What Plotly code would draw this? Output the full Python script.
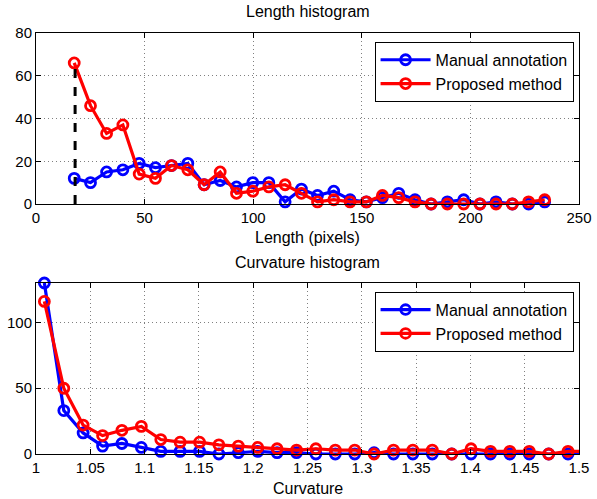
import plotly.graph_objects as go

# ---------------- Data ----------------
length_bins = [17.6, 25.1, 32.5, 40.0, 47.5, 55.0, 62.4, 69.9, 77.4, 84.8,
               92.3, 99.8, 107.2, 114.7, 122.2, 129.6, 137.1, 144.6, 152.1, 159.5,
               167.0, 174.5, 181.9, 189.4, 196.9, 204.4, 211.8, 219.3, 226.8, 234.2]
length_manual = [12, 10, 15, 16, 19, 17, 18, 19, 9, 11,
                 8, 10, 10, 1, 7, 4, 6, 2, 1, 3,
                 5, 2, 0, 1, 2, 0, 1, 0, 0, 1]
length_proposed = [66, 46, 33, 37, 14, 12, 18, 16, 9, 15,
                   5, 6, 8, 9, 5, 1, 2, 1, 1, 4,
                   3, 1, 0, 0, 0, 0, 0, 0, 1, 2]
length_threshold = 18
length_threshold_top = 66

curv_bins = [1.0077, 1.0256, 1.0434, 1.0613, 1.0791, 1.0970, 1.1149, 1.1327, 1.1506, 1.1684,
             1.1863, 1.2042, 1.2220, 1.2399, 1.2577, 1.2756, 1.2935, 1.3113, 1.3292, 1.3470,
             1.3649, 1.3828, 1.4006, 1.4185, 1.4363, 1.4542, 1.4721, 1.4899, 1.5078]
curv_manual = [130, 33, 16, 6, 8, 5, 2, 2, 2, 0,
               1, 2, 1, 1, 0, 0, 0, 1, 0, 0,
               0, 0, 0, 0, 0, 0, 0, 0, 0]
curv_proposed = [116, 50, 22, 14, 18, 21, 11, 9, 9, 7,
                 6, 5, 4, 3, 4, 3, 3, 0, 3, 3,
                 3, 0, 4, 2, 2, 2, 0, 2, 2]

len_xticks = [0, 50, 100, 150, 200, 250]
len_yticks = [0, 20, 40, 60, 80]
curv_xticks = [1, 1.05, 1.1, 1.15, 1.2, 1.25, 1.3, 1.35, 1.4, 1.45, 1.5]
curv_xticktext = ["1", "1.05", "1.1", "1.15", "1.2", "1.25", "1.3", "1.35", "1.4", "1.45", "1.5"]
curv_yticks = [0, 50, 100]

series_names = ["Manual annotation", "Proposed method"]
BLUE = "#0000ff"
RED = "#ff0000"
FONT = "Liberation Sans, Arial, Helvetica, sans-serif"
TICK_SIZE = 15
TEXT_SIZE = 16

fig = go.Figure()

def add_series(x, y, name, color, xa, ya, legend, sizes=None):
    fig.add_trace(go.Scatter(
        x=x, y=y, name=name, mode="lines+markers",
        line=dict(color=color, width=3.2),
        marker=dict(symbol="circle-open", size=sizes if sizes else 10, opacity=1,
                    color=color, line=dict(width=2.8, color=color)),
        xaxis=xa, yaxis=ya, legend=legend, cliponaxis=False,
    ))

# top subplot
add_series(length_bins, length_manual, series_names[0], BLUE, "x", "y", "legend")
add_series(length_bins, length_proposed, series_names[1], RED, "x", "y", "legend")
fig.add_trace(go.Scatter(
    x=[length_threshold, length_threshold], y=[0, length_threshold_top],
    mode="lines", line=dict(color="black", width=3, dash="dash"),
    showlegend=False, xaxis="x", yaxis="y", hoverinfo="skip"))

# bottom subplot (last point lies past the axis edge: no marker drawn)
sizes = [10] * (len(curv_bins) - 1) + [0]
add_series(curv_bins, curv_manual, series_names[0], BLUE, "x2", "y2", "legend2", sizes)
add_series(curv_bins, curv_proposed, series_names[1], RED, "x2", "y2", "legend2", sizes)

axis_common = dict(
    showline=True, linecolor="black", linewidth=1, mirror="ticks",
    ticks="inside", ticklen=5, tickcolor="black", automargin=False,
    showgrid=True, gridcolor="#808080", griddash="1px,3px", gridwidth=1,
    zeroline=False, tickfont=dict(size=TICK_SIZE, color="black", family=FONT),
)

top_dom = [0.5938, 1.0]
bot_dom = [0.0, 0.4062]

legend_common = dict(xanchor="right", yanchor="top", bgcolor="white",
                     bordercolor="black", borderwidth=1, itemwidth=50,
                     font=dict(size=TEXT_SIZE, color="black", family=FONT))

def label(text, y):
    return dict(text=text, x=0.5, y=y, xref="paper", yref="paper",
                showarrow=False, xanchor="center", yanchor="middle",
                font=dict(size=TEXT_SIZE, color="black", family=FONT))

fig.update_layout(
    width=597, height=499,
    margin=dict(l=36, r=18, t=33, b=45),
    paper_bgcolor="white", plot_bgcolor="white",
    font=dict(family=FONT, size=TEXT_SIZE, color="black"),
    xaxis=dict(domain=[0, 1], anchor="y", range=[0, 250], tickvals=len_xticks,
               **axis_common),
    yaxis=dict(domain=top_dom, anchor="x", range=[0, 80], tickvals=len_yticks,
               **axis_common),
    xaxis2=dict(domain=[0, 1], anchor="y2", range=[1, 1.5], tickvals=curv_xticks,
                ticktext=curv_xticktext, **axis_common),
    yaxis2=dict(domain=bot_dom, anchor="x2", range=[0, 130], tickvals=curv_yticks,
                **axis_common),
    legend=dict(x=0.99, y=0.979, **legend_common),
    legend2=dict(x=0.99, y=0.3855, **legend_common),
    annotations=[
        label("Length histogram", 1.05),
        label("Length (pixels)", 0.5154),
        label("Curvature histogram", 0.456),
        label("Curvature", -0.0831),
    ],
    showlegend=True,
)

fig.write_html("out.html")
